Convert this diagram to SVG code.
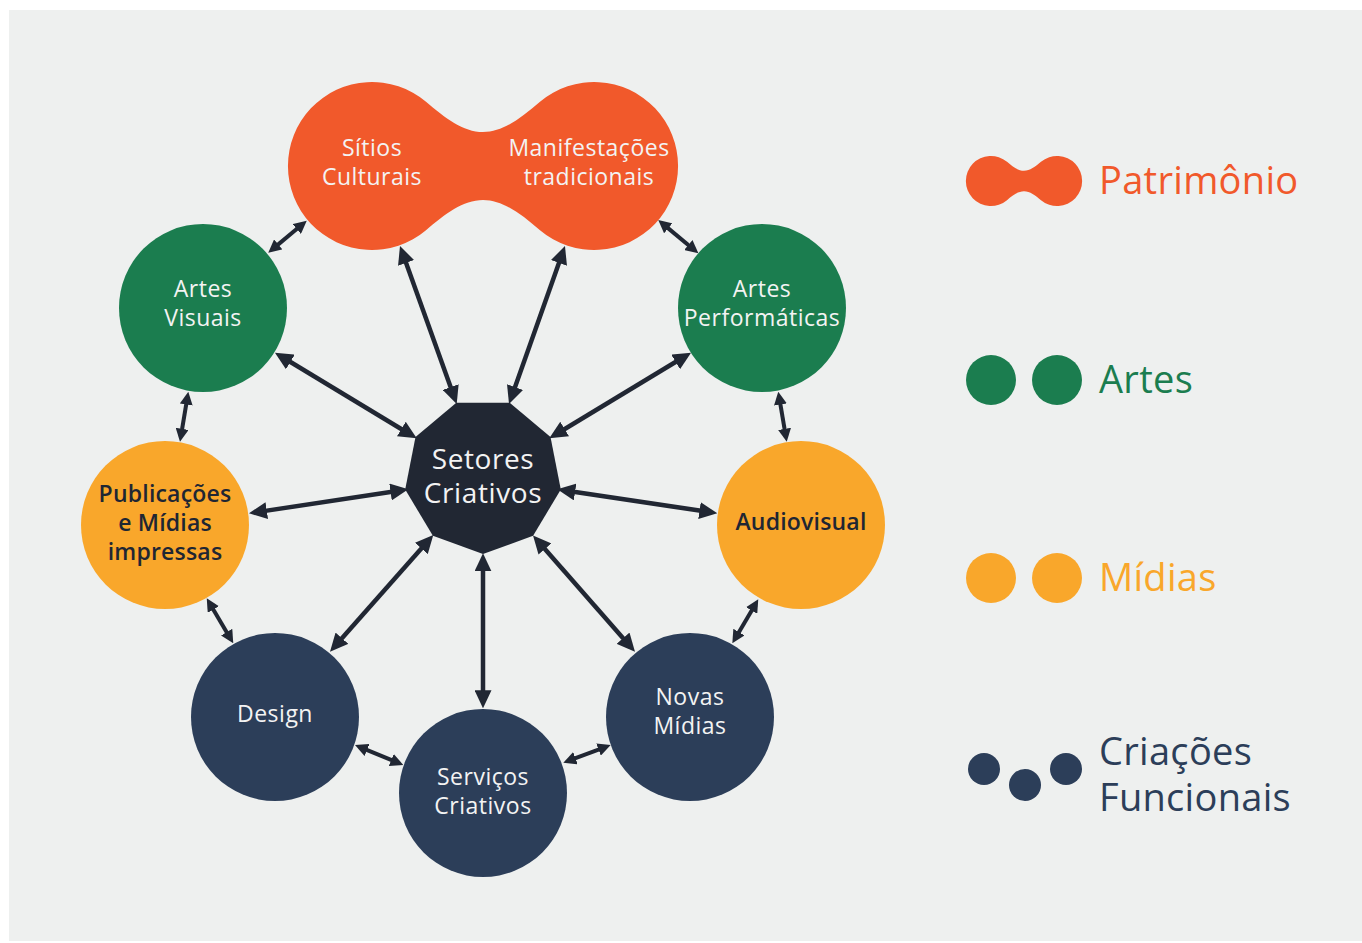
<svg xmlns="http://www.w3.org/2000/svg" xmlns:xlink="http://www.w3.org/1999/xlink" width="1362" height="943" viewBox="0 0 1362 943">
  <defs>
    <style>
      .bg { fill: #eef0ef; }
      .orange { fill: #f1592b; }
      .green { fill: #1b7d4f; }
      .yellow { fill: #f9a72b; }
      .navy { fill: #2c3e59; }
      .hub { fill: #212733; }
      .label { font-family: "Open Sans", "Noto Sans", sans-serif; font-size: 23px; font-weight: 500; letter-spacing: 0.5px; fill: #f3f3f3; text-anchor: middle; }
      .label.dark { fill: #1f2633; font-weight: 600; letter-spacing: 0.2px; }
      .hub-label { font-family: "Open Sans", "Noto Sans", sans-serif; font-size: 28px; font-weight: 500; letter-spacing: 0.6px; fill: #f3f3f3; text-anchor: middle; }
      .legend { font-family: "Open Sans", "Noto Sans", sans-serif; font-size: 38px; font-weight: 500; letter-spacing: 0.3px; }
      .link { stroke: #212733; stroke-width: 4.5; fill: none; }
      .link.big { marker-start: url(#headBig); marker-end: url(#headBig); }
      .link.small { stroke-width: 4; marker-start: url(#headSmall); marker-end: url(#headSmall); }
    </style>
    <marker id="headBig" markerUnits="userSpaceOnUse" markerWidth="18" markerHeight="17" refX="10" refY="8.5" orient="auto-start-reverse">
      <path d="M0,0 L18,8.5 L0,17 Z" fill="#212733"/>
    </marker>
    <marker id="headSmall" markerUnits="userSpaceOnUse" markerWidth="13" markerHeight="13" refX="5" refY="6.5" orient="auto-start-reverse">
      <path d="M0,0 L13,6.5 L0,13 Z" fill="#212733"/>
    </marker>
    <!-- twin-lobed heritage shape, centred on its waist -->
    <path id="twinLobe" d="M -57,-64.3 C -38,-48 -20,-34 0,-34 C 20,-34 38,-48 57,-64.3 A 84 84 0 1 1 57,64.3 C 38,48 20,34 0,34 C -20,34 -38,48 -57,64.3 A 84 84 0 1 1 -57,-64.3 Z"/>
  </defs>

  <rect width="1362" height="943" fill="#ffffff"/>
  <rect class="bg" x="9" y="10" width="1353" height="931"/>

  <!-- connectors -->
  <g id="connectors">
    <line class="link small" x1="300.6" y1="225.8" x2="274.4" y2="247.6"/>
    <line class="link small" x1="664.4" y1="225.1" x2="692.2" y2="248.2"/>
    <line class="link big" x1="402.7" y1="253.5" x2="454.0" y2="396.5"/>
    <line class="link big" x1="562.3" y1="253.5" x2="511.7" y2="396.5"/>
    <line class="link big" x1="281.8" y1="356.8" x2="409.9" y2="434.2"/>
    <line class="link big" x1="684.2" y1="356.8" x2="556.1" y2="434.2"/>
    <line class="link small" x1="187.0" y1="399.6" x2="181.3" y2="433.8"/>
    <line class="link small" x1="779.6" y1="399.6" x2="785.4" y2="433.8"/>
    <line class="link big" x1="256.9" y1="512.1" x2="400.4" y2="490.5"/>
    <line class="link big" x1="709.4" y1="512.1" x2="565.2" y2="490.5"/>
    <line class="link small" x1="210.8" y1="605.2" x2="229.2" y2="636.4"/>
    <line class="link small" x1="754.2" y1="606.2" x2="736.4" y2="636.4"/>
    <line class="link big" x1="335.3" y1="645.7" x2="428.0" y2="541.0"/>
    <line class="link big" x1="629.7" y1="645.7" x2="538.3" y2="541.5"/>
    <line class="link big" x1="483" y1="561.3" x2="483" y2="700.3"/>
    <line class="link small" x1="362.4" y1="748.1" x2="395.9" y2="761.9"/>
    <line class="link small" x1="603.2" y1="747.8" x2="570.8" y2="759.9"/>
  </g>

  <!-- heritage: two joined lobes -->
  <g id="patrimonio">
    <use xlink:href="#twinLobe" href="#twinLobe" class="orange" transform="translate(483,166)"/>
    <text class="label" x="372" y="156">Sítios</text>
    <text class="label" x="372" y="185">Culturais</text>
    <text class="label" x="589" y="156">Manifestações</text>
    <text class="label" x="589" y="185">tradicionais</text>
  </g>

  <g id="artes-visuais">
    <circle class="green" cx="203" cy="308" r="84"/>
    <text class="label" x="203" y="297">Artes</text>
    <text class="label" x="203" y="326">Visuais</text>
  </g>

  <g id="artes-performaticas">
    <circle class="green" cx="762" cy="308" r="84"/>
    <text class="label" x="762" y="297">Artes</text>
    <text class="label" x="762" y="326">Performáticas</text>
  </g>

  <g id="publicacoes">
    <circle class="yellow" cx="165" cy="525" r="84"/>
    <text class="label dark" x="165" y="502">Publicações</text>
    <text class="label dark" x="165" y="531">e Mídias</text>
    <text class="label dark" x="165" y="560">impressas</text>
  </g>

  <g id="audiovisual">
    <circle class="yellow" cx="801" cy="525" r="84"/>
    <text class="label dark" x="801" y="530">Audiovisual</text>
  </g>

  <g id="design">
    <circle class="navy" cx="275" cy="717" r="84"/>
    <text class="label" x="275" y="722">Design</text>
  </g>

  <g id="servicos-criativos">
    <circle class="navy" cx="483" cy="793" r="84"/>
    <text class="label" x="483" y="785">Serviços</text>
    <text class="label" x="483" y="814">Criativos</text>
  </g>

  <g id="novas-midias">
    <circle class="navy" cx="690" cy="717" r="84"/>
    <text class="label" x="690" y="705">Novas</text>
    <text class="label" x="690" y="734">Mídias</text>
  </g>

  <!-- central nonagon -->
  <g id="setores-criativos">
    <polygon class="hub" points="456.3,402.7 509.7,402.7 550.5,437 560.8,489.5 533.1,535.8 483,554 432.9,535.8 405.2,489.5 415.5,437"/>
    <text class="hub-label" x="483" y="469">Setores</text>
    <text class="hub-label" x="483" y="503">Criativos</text>
  </g>

  <!-- legend -->
  <g id="legend">
    <g id="legend-patrimonio">
      <use xlink:href="#twinLobe" href="#twinLobe" class="orange" transform="translate(1024,181) scale(0.298)"/>
      <text class="legend" x="1099" y="194" fill="#f1592b">Patrimônio</text>
    </g>
    <g id="legend-artes">
      <circle class="green" cx="991" cy="380" r="25"/>
      <circle class="green" cx="1057" cy="380" r="25"/>
      <text class="legend" x="1099" y="393" fill="#1b7d4f">Artes</text>
    </g>
    <g id="legend-midias">
      <circle class="yellow" cx="991" cy="578" r="25"/>
      <circle class="yellow" cx="1057" cy="578" r="25"/>
      <text class="legend" x="1099" y="591" fill="#f9a72b">Mídias</text>
    </g>
    <g id="legend-criacoes">
      <circle class="navy" cx="984" cy="769" r="16"/>
      <circle class="navy" cx="1025" cy="785" r="16"/>
      <circle class="navy" cx="1066" cy="769" r="16"/>
      <text class="legend" x="1099" y="765" fill="#2c3e59">Criações</text>
      <text class="legend" x="1099" y="811" fill="#2c3e59">Funcionais</text>
    </g>
  </g>
</svg>
